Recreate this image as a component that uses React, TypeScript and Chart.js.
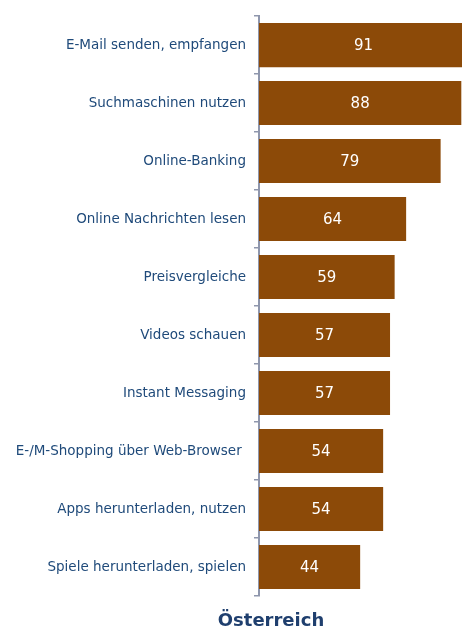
import React, { useEffect, useRef } from "react";
import { Chart, registerables } from "chart.js";

Chart.register(...registerables);

const categories = [
  "E-Mail senden, empfangen",
  "Suchmaschinen nutzen",
  "Online-Banking",
  "Online Nachrichten lesen",
  "Preisvergleiche",
  "Videos schauen",
  "Instant Messaging",
  "E-/M-Shopping über Web-Browser ",
  "Apps herunterladen, nutzen",
  "Spiele herunterladen, spielen",
];
const values = [91, 88, 79, 64, 59, 57, 57, 54, 54, 44];
const titleText = "Österreich";

const BAR_COLOR = "#8C4A08";
const LABEL_COLOR = "#1F4A7A";
const AXIS_COLOR = "#8F97AD";

const valueLabels = {
  id: "valueLabels",
  afterDatasetsDraw(chart: any) {
    const ctx = chart.ctx;
    const xScale = chart.scales.x;
    const meta = chart.getDatasetMeta(0);
    ctx.save();
    ctx.fillStyle = "#FFFFFF";
    ctx.font = "15px 'DejaVu Sans'";
    ctx.textAlign = "center";
    ctx.textBaseline = "middle";
    meta.data.forEach((bar: any, i: number) => {
      const v = values[i];
      const x0 = xScale.getPixelForValue(0);
      const x1 = xScale.getPixelForValue(v);
      ctx.fillText(String(v), (x0 + x1) / 2, bar.y + 1);
    });
    ctx.restore();
  },
};

export default function App() {
  const ref = useRef<HTMLCanvasElement>(null);
  useEffect(() => {
    if (!ref.current) return;
    const chart = new Chart(ref.current, {
      type: "bar",
      data: {
        labels: categories,
        datasets: [
          {
            data: values,
            backgroundColor: BAR_COLOR,
            borderWidth: 0,
            categoryPercentage: 0.76,
            barPercentage: 1,
          },
        ],
      },
      options: {
        indexAxis: "y",
        animation: false,
        responsive: false,
        maintainAspectRatio: false,
        layout: { padding: { top: 11, bottom: 32, left: 0, right: 0 } },
        plugins: {
          legend: { display: false },
          tooltip: { enabled: false },
          title: { display: false },
        },
        scales: {
          x: { display: false, min: 0, max: 88.3 },
          y: {
            afterFit(scale: any) {
              scale.width = 259;
            },
            grid: {
              offset: true,
              drawOnChartArea: false,
              drawTicks: true,
              tickLength: 5,
              color: AXIS_COLOR,
              lineWidth: 1.5,
            },
            border: { display: true, color: AXIS_COLOR, width: 2 },
            ticks: {
              color: LABEL_COLOR,
              padding: 8,
              font: { family: "'DejaVu Sans'", size: 13.5 },
            },
          },
        },
      },
      plugins: [valueLabels],
    });
    return () => chart.destroy();
  }, []);
  return (
    <div style={{ position: "absolute", left: 0, top: 0, width: 462, height: 628, background: "#fff" }}>
      <canvas ref={ref} width={462} height={628} style={{ display: "block" }} />
      <div
        style={{
          position: "absolute",
          left: 171,
          width: 200,
          top: 609,
          textAlign: "center",
          fontFamily: "'DejaVu Sans', sans-serif",
          fontWeight: "bold",
          fontSize: 18,
          color: "#1F3F6E",
          lineHeight: "22px",
        }}
      >
        {titleText}
      </div>
    </div>
  );
}
